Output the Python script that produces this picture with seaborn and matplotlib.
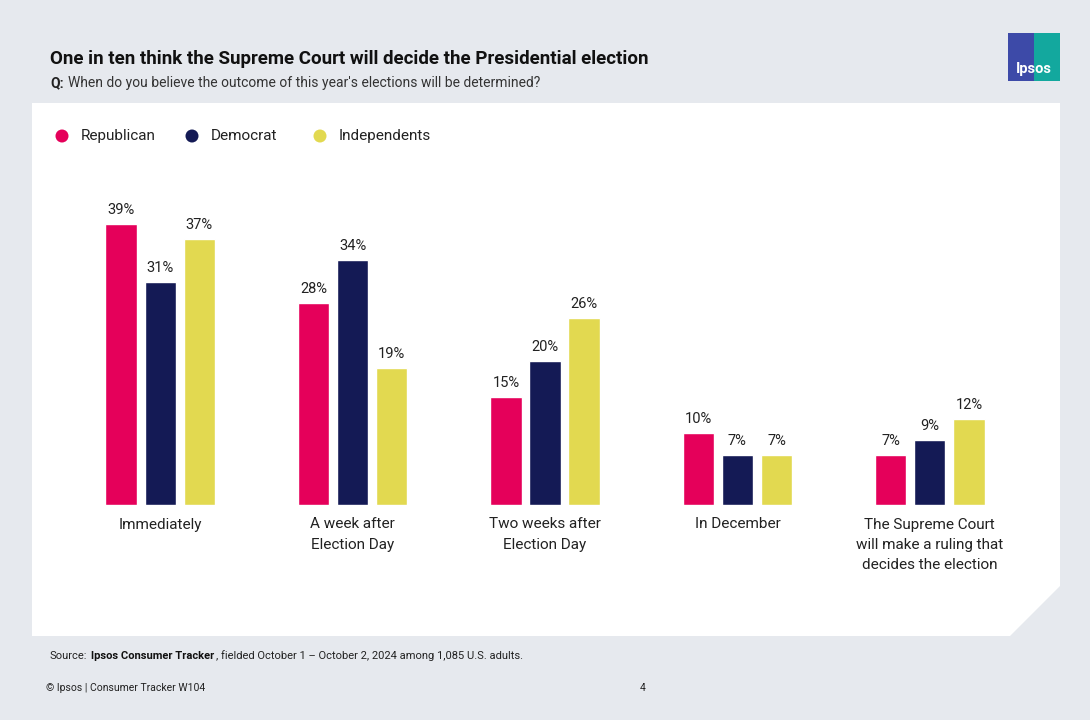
import numpy as np
import pandas as pd
import seaborn as sns
import matplotlib.pyplot as plt
from matplotlib.patches import Polygon, Rectangle, Ellipse

categories = ["Immediately", "A week after\nElection Day", "Two weeks after\nElection Day",
              "In December", "The Supreme Court\nwill make a ruling that\ndecides the election"]
groups = ["Republican", "Democrat", "Independents"]
republican = [39, 28, 15, 10, 7]
democrat = [31, 34, 20, 7, 9]
independents = [37, 19, 26, 7, 12]
colors = ["#e5005a", "#141a55", "#e2d950"]

df = pd.DataFrame({
    "category": categories * 3,
    "group": np.repeat(groups, len(categories)),
    "value": republican + democrat + independents,
})

sns.set_theme(style="white")
plt.rcParams["font.family"] = ["Roboto", "DejaVu Sans"]

W, H = 1090, 720
fig = plt.figure(figsize=(W / 100, H / 100), dpi=100)
fig.patch.set_facecolor("#e6e9ee")

# pixel coords -> figure fraction
def px(x, y):
    return (x / W, 1 - y / H)

# white card with cut corner
card = Polygon([px(32, 103), px(1060, 103), px(1060, 586), px(1010, 636), px(32, 636)],
               closed=True, transform=fig.transFigure, facecolor="white", edgecolor="none", zorder=0)
fig.patches.append(card)

# logo
fig.patches.append(Rectangle(px(1008, 81), 26 / W, 48 / H, transform=fig.transFigure,
                             facecolor="#3d4aa8", edgecolor="none"))
fig.patches.append(Rectangle(px(1034, 81), 26 / W, 48 / H, transform=fig.transFigure,
                             facecolor="#13a89e", edgecolor="none"))
fig.text(1034 / W, 1 - 69 / H, "Ipsos", color="white", fontsize=10.5, fontweight="bold",
         ha="center", va="center")

fig.text(50 / W, 1 - 59 / H, "One in ten think the Supreme Court will decide the Presidential election",
         fontsize=13.5, fontweight="bold", color="#111111", va="center")
fig.text(50 / W, 1 - 83 / H, "Q:", fontsize=10, fontweight="bold", color="#222222", va="center")
fig.text(68 / W, 1 - 83 / H, "When do you believe the outcome of this year's elections will be determined?",
         fontsize=10, color="#333333", va="center")

# legend
for (lx, name, c) in zip([62, 192, 320], groups, colors):
    fig.patches.append(Ellipse(px(lx, 136), 13 / W, 13 / H, transform=fig.transFigure,
                               facecolor=c, edgecolor="none"))
    fig.text((lx + 19) / W, 1 - 136 / H, name, fontsize=11, color="#222222", va="center")

ax = fig.add_axes([64 / W, 1 - 505 / H, 962 / W, 324 / H])
ax.set_zorder(3)
ax.set_facecolor("none")
sns.barplot(data=df, x="category", y="value", hue="group", palette=colors,
            width=0.61, gap=0.2, ax=ax, legend=False, saturation=1)
ax.set_xlim(-0.5, 4.5)
ax.set_ylim(0, 45)
for cont in ax.containers:
    ax.bar_label(cont, labels=[f"{v:.0f}%" for v in cont.datavalues], padding=5,
                 fontsize=10.5, color="#222222")
ax.set_xlabel("")
ax.set_ylabel("")
ax.set_yticks([])
ax.tick_params(axis="x", length=0, pad=9, labelsize=11, labelcolor="#222222")
for lbl in ax.get_xticklabels():
    lbl.set_linespacing(1.55)
for s in ax.spines.values():
    s.set_visible(False)

fig.text(50 / W, 1 - 656 / H, "Source:", fontsize=8, color="#222222", va="center")
fig.text(91 / W, 1 - 656 / H, "Ipsos Consumer Tracker", fontsize=8, fontweight="bold",
         color="#111111", va="center")
fig.text(216 / W, 1 - 656 / H, ", fielded October 1 – October 2, 2024 among 1,085 U.S. adults.",
         fontsize=8, color="#222222", va="center")
fig.text(46 / W, 1 - 688 / H, "© Ipsos | Consumer Tracker W104", fontsize=7.5, color="#222222", va="center")
fig.text(640 / W, 1 - 688 / H, "4", fontsize=7.5, color="#222222", va="center")

fig.savefig("out.png", dpi=100, facecolor=fig.get_facecolor())
